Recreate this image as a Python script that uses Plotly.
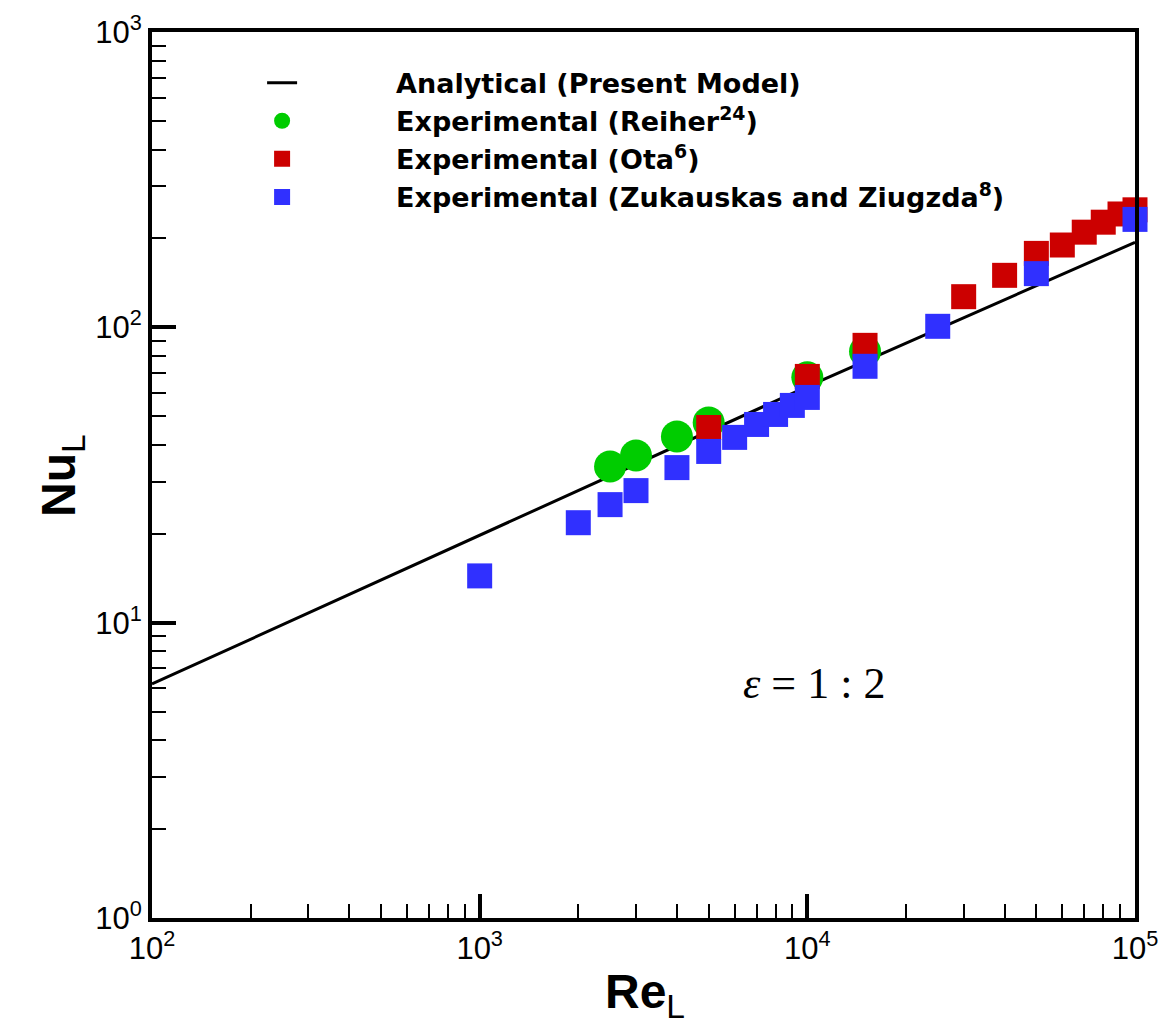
import plotly.graph_objects as go

# Analytical (Present Model)
re_line = [100, 1000, 10000, 100000]
nu_line = [6.2, 19.8, 63.0, 194.0]

# Experimental (Reiher)
re_reiher = [2500, 3000, 4000, 5000, 10000, 15000]
nu_reiher = [33.8, 36.8, 42.7, 47.6, 67.7, 82.9]

# Experimental (Ota)
re_ota = [5000, 10000, 15000, 30000, 40000, 50000, 60000, 70000, 80000, 90000, 100000]
nu_ota = [45.8, 68.2, 86.9, 127, 150, 178, 190, 210, 227, 242, 250]

# Experimental (Zukauskas and Ziugzda)
re_zuk = [1000, 2000, 2500, 3000, 4000, 5000, 6000, 7000, 8000, 9000, 10000, 15000, 25000, 50000, 100000]
nu_zuk = [14.4, 21.8, 25.1, 28.0, 33.5, 38.0, 42.4, 46.9, 50.7, 54.4, 57.9, 73.8, 100.8, 152, 232]

# Tick labels
x_tickvals = [100, 1000, 10000, 100000]
x_ticktext = ["10<sup>2</sup>", "10<sup>3</sup>", "10<sup>4</sup>", "10<sup>5</sup>"]
y_tickvals = [1, 10, 100, 1000]
y_ticktext = ["10<sup>0</sup>", "10<sup>1</sup>", "10<sup>2</sup>", "10<sup>3</sup>"]

pad = "\u00a0" * 10

fig = go.Figure()
fig.add_trace(go.Scatter(x=re_line, y=nu_line, mode="lines",
                         line=dict(color="black", width=3),
                         name=pad + "Analytical (Present Model)"))
fig.add_trace(go.Scatter(x=re_reiher, y=nu_reiher, mode="markers", cliponaxis=False,
                         marker=dict(symbol="circle", size=32, color="#00CC00", line=dict(width=0)),
                         name=pad + "Experimental (Reiher<sup>24</sup>)"))
fig.add_trace(go.Scatter(x=re_ota, y=nu_ota, mode="markers", cliponaxis=False,
                         marker=dict(symbol="square", size=25, color="#CC0000", line=dict(width=0)),
                         name=pad + "Experimental (Ota<sup>6</sup>)"))
fig.add_trace(go.Scatter(x=re_zuk, y=nu_zuk, mode="markers", cliponaxis=False,
                         marker=dict(symbol="square", size=25, color="#3030FF", line=dict(width=0)),
                         name=pad + "Experimental (Zukauskas and Ziugzda<sup>8</sup>)"))

axis_common = dict(
    type="log", showgrid=False, zeroline=False, automargin=False,
    showline=True, linecolor="black", linewidth=4, mirror=True,
    ticks="inside", ticklen=24, tickwidth=4, tickcolor="black",
    minor=dict(ticks="inside", ticklen=14, tickwidth=1.6, tickcolor="black", dtick="D1", showgrid=False),
    tickfont=dict(family="Arial", size=31, color="black"),
)

fig.update_xaxes(range=[2, 5], tickvals=x_tickvals, ticktext=x_ticktext, **axis_common)
fig.update_yaxes(range=[0, 3], tickvals=y_tickvals, ticktext=y_ticktext, **axis_common)

fig.add_annotation(xref="paper", yref="paper", x=0.5015, y=-0.087, xanchor="center", yanchor="middle",
                   showarrow=False, text="<b>Re</b><sub>L</sub>",
                   font=dict(family="Arial", size=48, color="black"))
fig.add_annotation(xref="paper", yref="paper", x=-0.0916, y=0.5, xanchor="center", yanchor="middle",
                   showarrow=False, textangle=-90, text="<b>Nu</b><sub>L</sub>",
                   font=dict(family="Arial", size=48, color="black"))

fig.add_annotation(xref="paper", yref="paper", x=0.673, y=0.265, xanchor="center", yanchor="middle",
                   showarrow=False, text="<i>ε</i> = 1 : 2",
                   font=dict(family="Liberation Serif, Times New Roman, serif", size=44, color="black"))

fig.update_layout(
    width=1164, height=1025,
    margin=dict(l=152, r=29, t=32, b=107),
    paper_bgcolor="white", plot_bgcolor="white",
    showlegend=True,
    legend=dict(x=0.112, y=0.97, xanchor="left", yanchor="top",
                bgcolor="rgba(0,0,0,0)", borderwidth=0,
                font=dict(family="DejaVu Sans", size=27, color="black", weight="bold"),
                itemsizing="trace", tracegroupgap=0),
)

fig.write_html("out.html")
